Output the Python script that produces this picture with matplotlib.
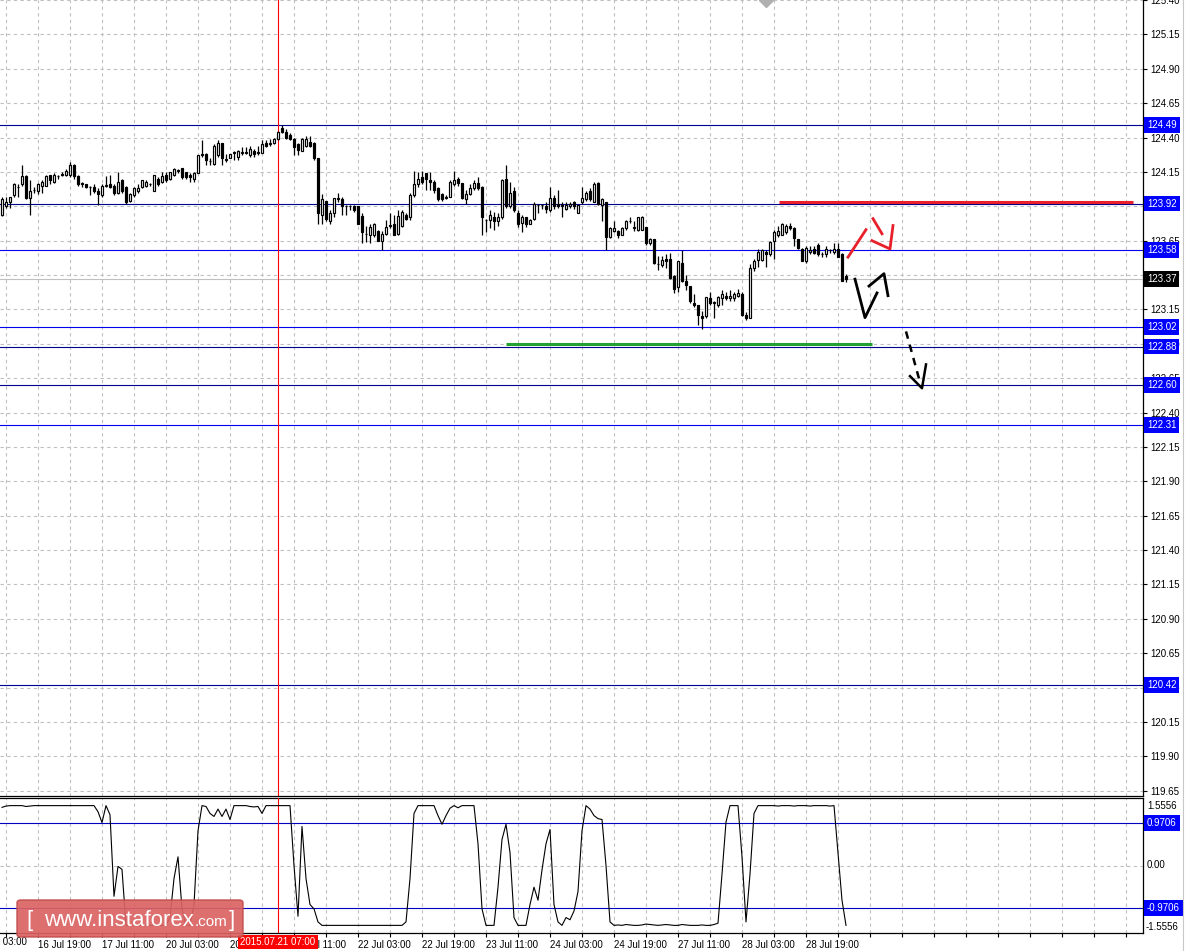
import matplotlib
matplotlib.use("Agg")
import matplotlib.pyplot as plt
import matplotlib.transforms as mtransforms
from matplotlib.patches import FancyBboxPatch
from matplotlib.lines import Line2D
from matplotlib.ticker import FixedLocator, FuncFormatter

plt.rcParams['font.family'] = ['Liberation Sans', 'DejaVu Sans']

# H1 candles, bar 0 = 16 Jul 10:00, bar 69 = 21 Jul 07:00
opens = [
    123.84, 123.90, 123.93, 123.98, 124.04, 124.06, 124.12, 123.96, 124.02, 124.01,
    124.05, 124.05, 124.13, 124.08, 124.12, 124.13, 124.13, 124.13, 124.20, 124.12,
    124.07, 124.06, 124.04, 124.04, 124.01, 123.98, 124.05, 124.06, 124.05, 124.00,
    124.09, 124.04, 123.94, 123.98, 124.01, 124.04, 124.05, 124.06, 124.01, 124.10,
    124.08, 124.13, 124.10, 124.13, 124.16, 124.18, 124.15, 124.13, 124.10, 124.14,
    124.28, 124.28, 124.23, 124.21, 124.27, 124.36, 124.24, 124.25, 124.29, 124.26,
    124.29, 124.29, 124.27, 124.30, 124.29, 124.29, 124.36, 124.35, 124.36, 124.39,
    124.47, 124.44, 124.42, 124.39, 124.35, 124.30, 124.34, 124.37, 124.36, 124.25,
    123.84, 123.94, 123.79, 123.85, 123.95, 123.95, 123.90, 123.90, 123.90, 123.90,
    123.83, 123.70, 123.69, 123.69, 123.72, 123.65, 123.70, 123.76, 123.77, 123.70,
    123.76, 123.84, 123.82, 123.98, 124.06, 124.11, 124.14, 124.09, 124.08, 124.03,
    123.99, 123.96, 123.97, 124.06, 124.10, 124.07, 123.95, 123.99, 124.03, 124.07,
    124.04, 123.80, 123.80, 123.82, 123.79, 123.82, 124.10, 123.90, 124.01, 123.85,
    123.78, 123.82, 123.77, 123.81, 123.91, 123.91, 123.90, 123.87, 123.96, 123.92,
    123.91, 123.88, 123.90, 123.93, 123.85, 123.93, 123.95, 124.01, 123.93, 124.07,
    123.91, 123.93, 123.68, 123.72, 123.72, 123.69, 123.74, 123.79, 123.75, 123.73,
    123.73, 123.75, 123.63, 123.66, 123.48, 123.47, 123.52, 123.52, 123.39, 123.31,
    123.49, 123.36, 123.32, 123.20, 123.18, 123.10, 123.10, 123.23, 123.20, 123.18,
    123.23, 123.25, 123.23, 123.23, 123.25, 123.26, 123.11, 123.09, 123.45, 123.51,
    123.51, 123.57, 123.55, 123.65, 123.69, 123.69, 123.71, 123.76, 123.74, 123.66,
    123.59, 123.50, 123.57, 123.59, 123.62, 123.55, 123.55, 123.58, 123.57, 123.59,
    123.55, 123.39,
]
highs = [
    123.97, 123.97, 123.97, 124.07, 124.06, 124.20, 124.13, 124.09, 124.04, 124.07,
    124.09, 124.13, 124.13, 124.14, 124.13, 124.15, 124.17, 124.22, 124.21, 124.13,
    124.08, 124.06, 124.05, 124.06, 124.03, 124.06, 124.12, 124.13, 124.06, 124.15,
    124.10, 124.05, 124.00, 124.04, 124.06, 124.09, 124.09, 124.07, 124.13, 124.11,
    124.15, 124.15, 124.15, 124.18, 124.17, 124.18, 124.15, 124.14, 124.15, 124.27,
    124.38, 124.29, 124.25, 124.35, 124.38, 124.36, 124.28, 124.28, 124.30, 124.31,
    124.33, 124.33, 124.34, 124.32, 124.34, 124.38, 124.38, 124.39, 124.40, 124.45,
    124.49, 124.46, 124.43, 124.40, 124.36, 124.40, 124.41, 124.41, 124.37, 124.25,
    123.99, 123.94, 123.87, 123.96, 124.00, 123.97, 123.91, 123.91, 123.91, 123.90,
    123.85, 123.76, 123.77, 123.78, 123.73, 123.72, 123.80, 123.85, 123.84, 123.87,
    123.87, 123.85, 124.00, 124.16, 124.15, 124.16, 124.14, 124.15, 124.09, 124.04,
    124.00, 123.98, 124.09, 124.16, 124.11, 124.07, 124.02, 124.06, 124.09, 124.11,
    124.05, 123.81, 123.87, 123.86, 123.85, 124.10, 124.20, 124.08, 124.04, 123.87,
    123.84, 123.82, 123.81, 123.93, 123.92, 123.92, 123.93, 124.04, 123.98, 124.02,
    123.93, 123.93, 123.93, 123.94, 123.92, 124.04, 124.01, 124.03, 124.08, 124.08,
    123.96, 123.93, 123.75, 123.79, 123.73, 123.75, 123.80, 123.82, 123.79, 123.82,
    123.83, 123.75, 123.67, 123.66, 123.54, 123.54, 123.55, 123.56, 123.40, 123.50,
    123.58, 123.40, 123.32, 123.26, 123.18, 123.14, 123.24, 123.28, 123.21, 123.25,
    123.29, 123.28, 123.29, 123.28, 123.30, 123.28, 123.13, 123.48, 123.52, 123.59,
    123.59, 123.58, 123.65, 123.73, 123.76, 123.78, 123.77, 123.78, 123.75, 123.66,
    123.60, 123.61, 123.61, 123.61, 123.63, 123.57, 123.61, 123.59, 123.63, 123.63,
    123.56, 123.41,
]
lows = [
    123.83, 123.89, 123.89, 123.97, 123.97, 124.05, 123.95, 123.84, 124.00, 123.99,
    124.00, 124.05, 124.06, 124.07, 124.10, 124.12, 124.12, 124.11, 124.10, 124.05,
    124.04, 124.03, 123.98, 124.00, 123.91, 123.97, 124.04, 124.03, 123.98, 123.99,
    124.00, 123.92, 123.93, 123.97, 124.00, 124.03, 124.04, 124.05, 124.01, 124.05,
    124.07, 124.08, 124.09, 124.12, 124.14, 124.10, 124.10, 124.08, 124.08, 124.14,
    124.26, 124.20, 124.20, 124.20, 124.26, 124.20, 124.22, 124.25, 124.24, 124.24,
    124.27, 124.28, 124.26, 124.26, 124.27, 124.29, 124.33, 124.34, 124.35, 124.38,
    124.43, 124.39, 124.38, 124.27, 124.27, 124.30, 124.33, 124.33, 124.24, 123.77,
    123.77, 123.79, 123.77, 123.82, 123.93, 123.84, 123.84, 123.87, 123.86, 123.77,
    123.63, 123.64, 123.63, 123.68, 123.65, 123.58, 123.69, 123.74, 123.69, 123.69,
    123.75, 123.80, 123.80, 123.97, 124.04, 124.06, 124.02, 124.02, 124.00, 123.94,
    123.94, 123.95, 123.97, 124.05, 124.05, 123.95, 123.92, 123.98, 124.02, 124.02,
    123.69, 123.71, 123.74, 123.73, 123.76, 123.81, 123.89, 123.89, 123.86, 123.75,
    123.71, 123.75, 123.77, 123.80, 123.85, 123.88, 123.85, 123.86, 123.88, 123.89,
    123.82, 123.87, 123.89, 123.88, 123.85, 123.92, 123.94, 123.94, 123.93, 123.91,
    123.79, 123.58, 123.67, 123.71, 123.67, 123.69, 123.73, 123.78, 123.72, 123.72,
    123.73, 123.62, 123.62, 123.48, 123.44, 123.46, 123.45, 123.37, 123.27, 123.28,
    123.35, 123.29, 123.20, 123.17, 123.04, 123.01, 123.09, 123.18, 123.09, 123.17,
    123.18, 123.22, 123.21, 123.21, 123.24, 123.10, 123.07, 123.09, 123.43, 123.46,
    123.50, 123.46, 123.54, 123.52, 123.68, 123.69, 123.70, 123.73, 123.61, 123.59,
    123.50, 123.49, 123.55, 123.55, 123.54, 123.53, 123.53, 123.56, 123.55, 123.53,
    123.36, 123.35,
]
closes = [
    123.95, 123.93, 123.97, 124.06, 124.04, 124.12, 123.96, 124.01, 124.02, 124.06,
    124.08, 124.12, 124.09, 124.13, 124.12, 124.13, 124.16, 124.20, 124.12, 124.06,
    124.06, 124.04, 124.04, 124.01, 123.99, 124.05, 124.05, 124.04, 124.00, 124.08,
    124.01, 123.93, 123.99, 124.03, 124.03, 124.09, 124.08, 124.06, 124.13, 124.06,
    124.12, 124.09, 124.15, 124.17, 124.16, 124.11, 124.11, 124.11, 124.14, 124.27,
    124.27, 124.24, 124.23, 124.34, 124.36, 124.25, 124.24, 124.28, 124.29, 124.30,
    124.29, 124.29, 124.32, 124.28, 124.29, 124.35, 124.34, 124.36, 124.39, 124.44,
    124.44, 124.40, 124.39, 124.33, 124.31, 124.39, 124.39, 124.34, 124.25, 123.85,
    123.95, 123.81, 123.85, 123.96, 123.96, 123.90, 123.90, 123.90, 123.87, 123.77,
    123.71, 123.70, 123.75, 123.77, 123.65, 123.70, 123.75, 123.76, 123.69, 123.83,
    123.86, 123.81, 123.98, 124.06, 124.10, 124.08, 124.10, 124.08, 124.02, 123.95,
    123.95, 123.97, 124.08, 124.09, 124.07, 123.96, 123.99, 124.03, 124.07, 124.03,
    123.82, 123.80, 123.84, 123.79, 123.82, 124.09, 123.90, 124.00, 123.87, 123.77,
    123.82, 123.77, 123.80, 123.92, 123.91, 123.91, 123.88, 123.96, 123.90, 123.90,
    123.90, 123.91, 123.92, 123.90, 123.91, 123.96, 124.00, 123.95, 124.06, 123.92,
    123.95, 123.68, 123.74, 123.74, 123.69, 123.74, 123.79, 123.79, 123.74, 123.82,
    123.82, 123.63, 123.66, 123.49, 123.48, 123.51, 123.50, 123.38, 123.30, 123.50,
    123.36, 123.33, 123.21, 123.18, 123.11, 123.09, 123.24, 123.20, 123.20, 123.24,
    123.26, 123.23, 123.25, 123.26, 123.27, 123.11, 123.09, 123.45, 123.50, 123.57,
    123.58, 123.55, 123.64, 123.71, 123.72, 123.77, 123.76, 123.74, 123.67, 123.60,
    123.50, 123.60, 123.58, 123.56, 123.55, 123.55, 123.59, 123.58, 123.59, 123.53,
    123.36, 123.37,
]
# oscillator in the lower window
osc = [
    1.34, 1.37, 1.38, 1.38, 1.38, 1.38, 1.36, 1.37, 1.38, 1.38, 1.38, 1.38,
    1.38, 1.38, 1.38, 1.38, 1.38, 1.38, 1.38, 1.38, 1.38, 1.38, 1.38, 1.38,
    1.24, 0.99, 1.38, 1.17, -0.71, -0.02, -0.09, -1.38, -1.38, -1.38, -1.38, -1.38,
    -1.38, -1.38, -1.38, -1.38, -1.38, -1.38, -1.20, -0.30, 0.20, -1.00, -1.38, -1.38,
    -0.90, 0.80, 1.38, 1.36, 1.20, 1.13, 1.30, 1.13, 1.30, 1.06, 1.38, 1.38,
    1.38, 1.38, 1.36, 1.35, 1.36, 1.20, 1.38, 1.38, 1.38, 1.38, 1.38, 1.38,
    1.38, 0.00, -1.17, 0.90, -0.30, -0.90, -1.00, -1.30, -1.38, -1.38, -1.38, -1.38,
    -1.38, -1.38, -1.38, -1.38, -1.38, -1.38, -1.38, -1.38, -1.38, -1.38, -1.38, -1.38,
    -1.38, -1.38, -1.38, -1.38, -1.38, -1.30, -0.30, 1.20, 1.38, 1.38, 1.38, 1.38,
    1.38, 1.15, 0.95, 1.15, 1.32, 1.38, 1.33, 1.38, 1.38, 1.38, 1.38, 0.50,
    -1.00, -1.38, -1.38, -1.38, -0.50, 0.60, 0.95, 0.30, -1.20, -1.38, -1.38, -1.38,
    -0.90, -0.50, -0.80, -0.10, 0.50, 0.83, -0.90, -1.30, -1.38, -1.20, -1.25, -1.05,
    -0.60, 0.80, 1.38, 1.30, 1.15, 1.08, 1.06, 0.00, -1.30, -1.38, -1.37, -1.38,
    -1.36, -1.37, -1.38, -1.38, -1.37, -1.35, -1.36, -1.37, -1.38, -1.37, -1.36, -1.37,
    -1.38, -1.38, -1.36, -1.37, -1.38, -1.38, -1.38, -1.37, -1.38, -1.38, -1.36, -1.33,
    -0.20, 1.00, 1.38, 1.38, 1.38, 0.20, -1.30, -0.20, 1.20, 1.38, 1.38, 1.38,
    1.38, 1.38, 1.37, 1.38, 1.38, 1.38, 1.37, 1.38, 1.38, 1.38, 1.37, 1.38,
    1.38, 1.38, 1.38, 1.37, 1.38, 0.30, -0.80, -1.38,
]

tick_bars = [-7, 9, 25, 41, 57, 73, 89, 105, 121, 137, 153, 169, 185, 201]
tick_text = ['16 Jul 03:00', '16 Jul 19:00', '17 Jul 11:00', '20 Jul 03:00',
             '20 Jul 19:00', '21 Jul 11:00', '22 Jul 03:00', '22 Jul 19:00',
             '23 Jul 11:00', '24 Jul 03:00', '24 Jul 19:00', '27 Jul 11:00',
             '28 Jul 03:00', '28 Jul 19:00']

levels = [124.49, 123.92, 123.58, 123.02, 122.88, 122.60, 122.31, 120.42]
level_colors = ['#000090', '#000090', '#0000ee', '#0000ee',
                '#000090', '#000090', '#0000ee', '#000090']
bid = 123.37
osc_levels = [0.9706, -0.9706]
osc_lim = 1.5556
marked_bar = 69
marked_text = '2015.07.21 07:00'

# hand drawn objects: (bar, price) anchors
red_hline = [(194.25, 123.93), (282.75, 123.93)]
green_hline = [(126.0, 122.90), (217.5, 122.90)]
red_strokes = [[(211.5, 123.53), (216.0, 123.73)],
               [(217.75, 123.81), (220.0, 123.70)],
               [(217.5, 123.65), (222.0, 123.59), (222.75, 123.76)]]
black_strokes = [[(213.25, 123.37), (215.75, 123.09), (218.75, 123.27)],
                 [(216.75, 123.32), (220.5, 123.41), (221.5, 123.25)]]
dash_shaft = [(226.0, 122.99), (229.6, 122.61)]
dash_head = [(227.0, 122.665), (230.0, 122.577), (231.0, 122.75)]

W, H = 1185, 951
fig = plt.figure(figsize=(W / 100, H / 100), dpi=100)
ax = fig.add_axes([0, 1 - 796 / H, 1143 / W, 796 / H])
ax2 = fig.add_axes([0, 1 - 933 / H, 1143 / W, 135 / H], sharex=ax)

grid_kw = dict(color='#c0c0c0', linestyle=(0, (3, 3)), linewidth=0.8)

# candles
n = len(closes)
xs = list(range(n))
ax.vlines(xs, lows, highs, color='black', linewidth=0.9, zorder=4)
bottoms = [min(o, c) for o, c in zip(opens, closes)]
heights = [max(abs(c - o), 0.002) for o, c in zip(opens, closes)]
fills = ['white' if c >= o else 'black' for o, c in zip(opens, closes)]
ax.bar(xs, heights, bottom=bottoms, width=0.58, color=fills,
       edgecolor='black', linewidth=0.85, zorder=5)

for lv, col in zip(levels, level_colors):
    ax.axhline(lv, color=col, linewidth=0.8, zorder=3)
ax.axhline(bid, color='#c0c0c0', linewidth=0.8, zorder=3)
ax.axvline(marked_bar, color='red', linewidth=0.8, zorder=3)

ax.plot(*zip(*red_hline), color='#e8202a', linewidth=2.2, zorder=6, solid_capstyle='butt')
ax.plot(*zip(*green_hline), color='#22a030', linewidth=2.2, zorder=6, solid_capstyle='butt')
for s in red_strokes:
    ax.plot(*zip(*s), color='#e8202a', linewidth=2.0, zorder=6)
for s in black_strokes:
    ax.plot(*zip(*s), color='black', linewidth=2.0, zorder=6)
ax.plot(*zip(*dash_shaft), color='black', linewidth=1.8, linestyle=(0, (3, 2.5)), zorder=6)
ax.plot(*zip(*dash_head), color='black', linewidth=1.8, zorder=6)
ax.plot(191, 125.40, marker='D', color='#b0b0b0', markersize=7, zorder=6)

ax.set_xlim(-0.5, 285.25)
ax.set_ylim(119.612, 125.397)

yt = [round(119.65 + 0.25 * k, 2) for k in range(24)]
ax.set_yticks(yt)
ax.yaxis.set_major_formatter(FuncFormatter(lambda v, p: f'{v:.2f}'))
ax.yaxis.tick_right()
ax.tick_params(axis='y', direction='out', length=3, width=0.8, pad=2,
               labelsize=7, colors='black')

xt = list(range(1, 286, 8))
ax2.xaxis.set_major_locator(FixedLocator(xt))
lab = dict(zip(tick_bars, tick_text))
ax2.xaxis.set_major_formatter(FuncFormatter(lambda v, p: lab.get(int(round(v)), '')))
ax2.tick_params(axis='x', direction='out', length=3, width=0.8, pad=2, labelsize=7)
for t in ax2.get_xticklabels():
    t.set_horizontalalignment('left')
ax.tick_params(axis='x', length=0, labelbottom=False)

ax.grid(True, **grid_kw)
ax.set_axisbelow(True)

for a in (ax, ax2):
    a.spines['left'].set_visible(False)
    for sp in ('right', 'bottom', 'top'):
        a.spines[sp].set_linewidth(0.9)
        a.spines[sp].set_color('black')
ax.spines['top'].set_visible(False)

box_kw = dict(boxstyle='square,pad=0.3', ec='none')
trans_y = mtransforms.blended_transform_factory(ax.transAxes, ax.transData)
for lv in levels:
    ax.text(1.0035, lv, f'{lv:.2f}', transform=trans_y, ha='left', va='center',
            fontsize=7, color='white', zorder=10, clip_on=False,
            bbox=dict(fc='#0000ff', **box_kw))
ax.text(1.0035, bid, f'{bid:.2f}', transform=trans_y, ha='left', va='center',
        fontsize=7, color='white', zorder=10, clip_on=False,
        bbox=dict(fc='black', **box_kw))

# lower window
ax2.plot(xs, osc, color='black', linewidth=0.8, zorder=4)
for lv in osc_levels:
    ax2.axhline(lv, color='#0000c0', linewidth=0.8, zorder=3)
ax2.axvline(marked_bar, color='red', linewidth=0.8, zorder=3)
ax2.set_ylim(-osc_lim, osc_lim)
ax2.set_yticks([0])
ax2.tick_params(axis='y', length=0, labelleft=False, labelright=False)
ax2.grid(True, **grid_kw)
ax2.set_axisbelow(True)

trans2 = mtransforms.blended_transform_factory(ax2.transAxes, ax2.transData)
ax2.text(1.0035, 0.94, f'{osc_lim:.4f}', transform=ax2.transAxes, ha='left', va='center', fontsize=7, clip_on=False)
ax2.text(1.0035, 0.0, '0.00', transform=trans2, ha='left', va='center', fontsize=7, clip_on=False)
ax2.text(1.002, 0.045, f'{-osc_lim:.4f}', transform=ax2.transAxes, ha='left', va='center', fontsize=7, clip_on=False)
for lv in osc_levels:
    ax2.text(1.0035, lv, f'{lv:.4f}', transform=trans2, ha='left', va='center',
             fontsize=7, color='white', zorder=10, clip_on=False,
             bbox=dict(fc='#0000ff', **box_kw))

transx = mtransforms.blended_transform_factory(ax2.transData, ax2.transAxes)
ax2.text(tick_bars[0], -0.064, tick_text[0], transform=transx, ha='left', va='center', fontsize=7, clip_on=False)
ax2.text(marked_bar, -0.064, marked_text, transform=transx, ha='center', va='center',
         fontsize=7, color='white', zorder=10, clip_on=False,
         bbox=dict(boxstyle='square,pad=0.2', fc='#ff0000', ec='none'))

fig.add_artist(Line2D([1183 / W, 1183 / W], [0, 1], color='#c8c8c8', linewidth=0.8))

# watermark
wm = FancyBboxPatch((17 / W, 1 - 937 / H), 226 / W, 37 / H,
                    boxstyle='round,pad=0,rounding_size=0.003',
                    transform=fig.transFigure, fc='#dc6363', ec='#c04a4a',
                    linewidth=1.0, alpha=0.92)
fig.add_artist(wm)
base = 1 - 926 / H
fig.text(26 / W, base, '[', fontsize=16, color='white', va='baseline')
fig.text(44 / W, base, 'www.instaforex', fontsize=16, color='white', va='baseline')
fig.text(195 / W, base, '.com', fontsize=11, color='white', va='baseline')
fig.text(229 / W, base, ']', fontsize=16, color='white', va='baseline')

fig.savefig('out.png', dpi=100)
